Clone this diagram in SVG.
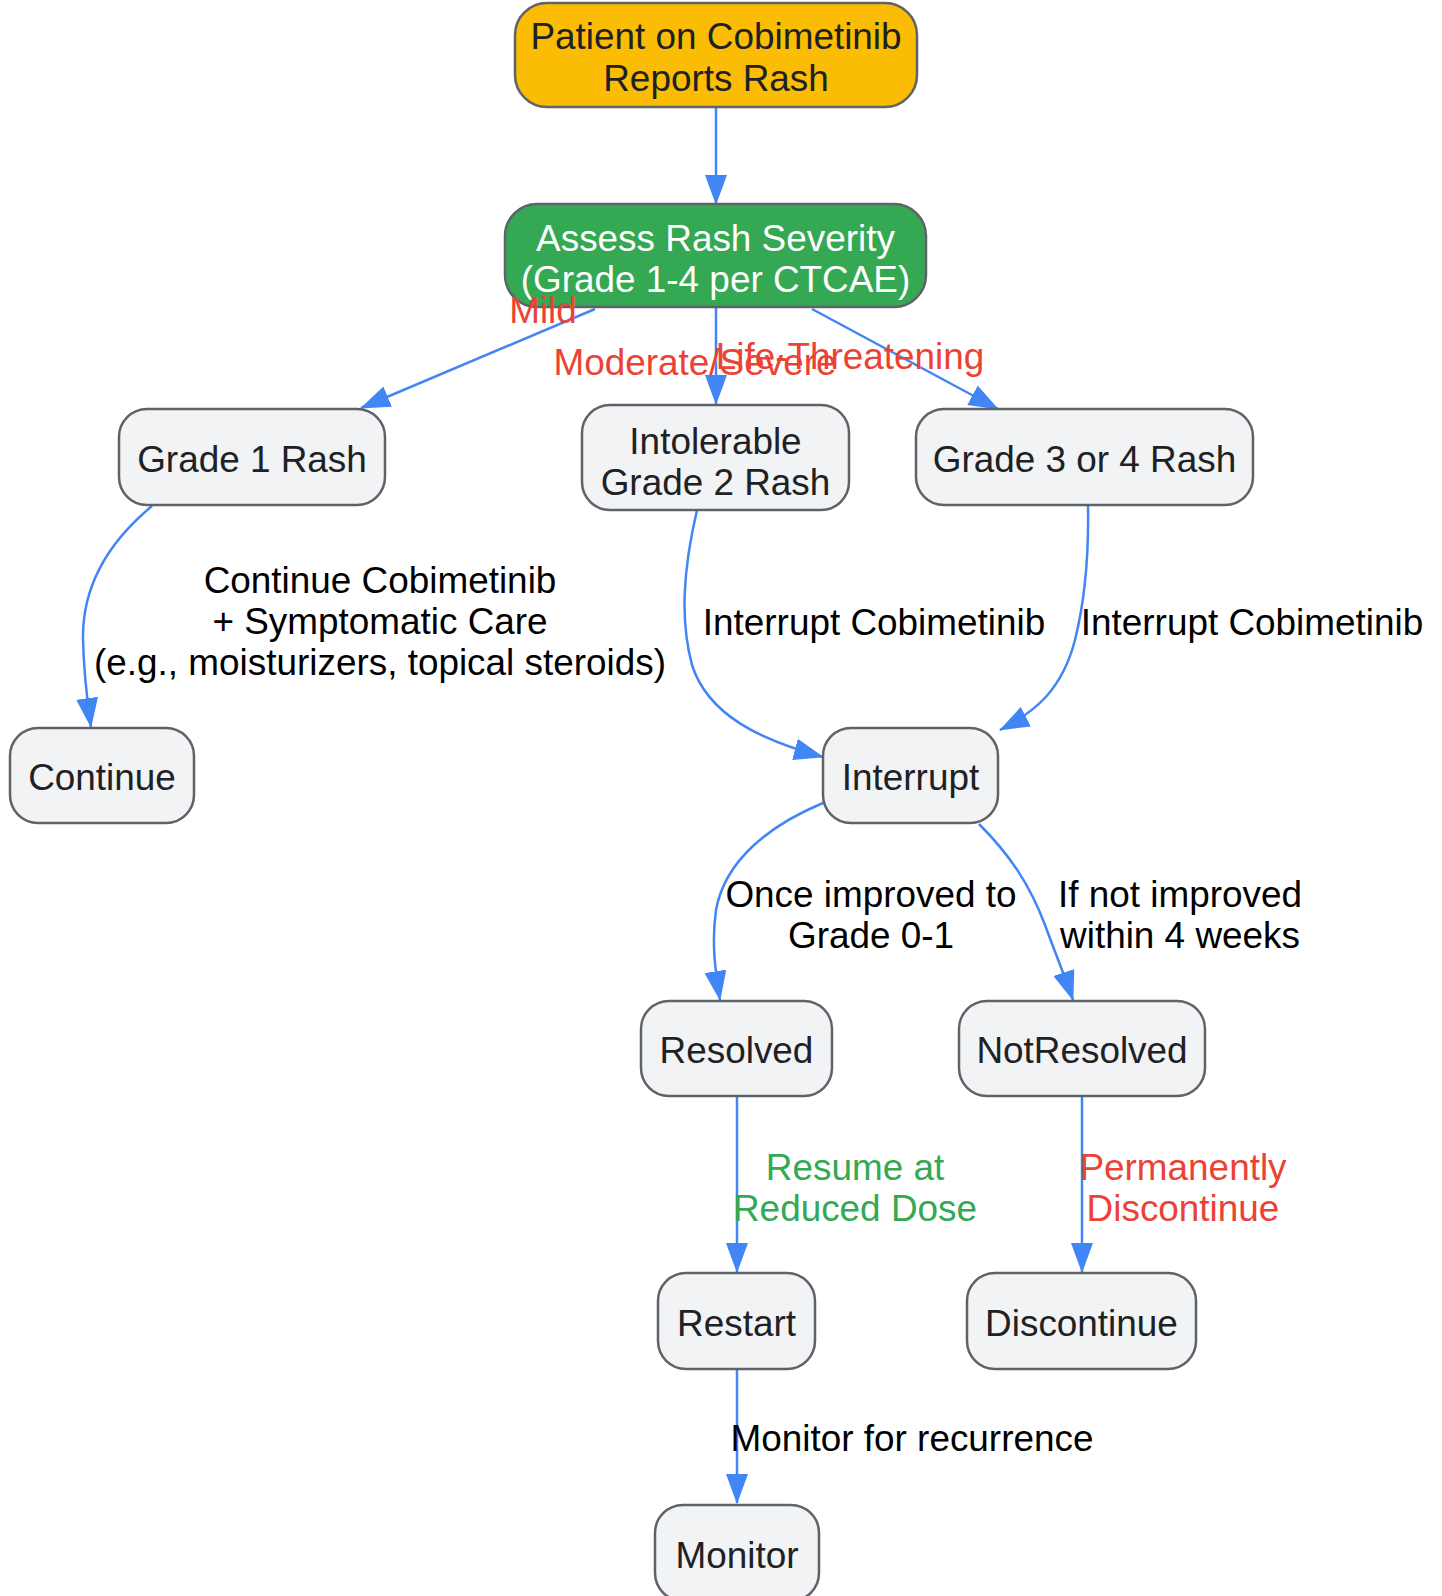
<svg xmlns="http://www.w3.org/2000/svg" width="1442" height="1596" viewBox="0 0 1442 1596">
<defs>
<style>
.n rect{fill:#F1F3F4;stroke:#5F6368;stroke-width:2.5}
.t{font-family:"Liberation Sans",Arial,sans-serif;font-size:36.9px;text-anchor:middle;fill:#202124}
.e path{fill:none;stroke:#4285F4;stroke-width:2.5}
.l{font-family:"Liberation Sans",Arial,sans-serif;font-size:36.9px;text-anchor:middle;fill:#000}
.red{fill:#EA4335}
.grn{fill:#34A853}
</style>
<marker id="ah" markerUnits="userSpaceOnUse" markerWidth="30" markerHeight="22" refX="29" refY="11" orient="auto">
<path d="M0,0 L30,11 L0,22 z" fill="#4285F4"/>
</marker>
</defs>
<rect x="0" y="0" width="1442" height="1596" fill="#fff"/>
<g id="connectors" class="e">
<path d="M716,107 L716,204" marker-end="url(#ah)"/>
<path d="M595,309 L361,408" marker-end="url(#ah)"/>
<path d="M716,307 L716,404" marker-end="url(#ah)"/>
<path d="M812,309 L998,409" marker-end="url(#ah)"/>
<path d="M152,506 C105,545 82,590 83,640 C84,680 88,705 91,727" marker-end="url(#ah)"/>
<path d="M697,510 C683,570 680,620 692,665 C708,715 760,740 823,757" marker-end="url(#ah)"/>
<path d="M1088,505 C1089,560 1085,600 1075,640 C1062,690 1035,712 1000,730" marker-end="url(#ah)"/>
<path d="M823,803 C770,825 725,860 716,910 C711,945 716,975 720,1000" marker-end="url(#ah)"/>
<path d="M979,824 C1010,855 1030,885 1045,925 C1058,960 1068,985 1073,1000" marker-end="url(#ah)"/>
<path d="M737,1096 L737,1272" marker-end="url(#ah)"/>
<path d="M1082,1096 L1082,1272" marker-end="url(#ah)"/>
<path d="M737,1369 L737,1503" marker-end="url(#ah)"/>
</g>
<g id="patient" class="n">
<rect x="515" y="3" width="402" height="104" rx="32" style="fill:#FBBC04"/>
<text class="t" x="716" y="49">Patient on Cobimetinib</text>
<text class="t" x="716" y="91">Reports Rash</text>
</g>
<g id="assess" class="n">
<rect x="505" y="204" width="421" height="103" rx="32" style="fill:#34A853"/>
<text class="t" x="715.5" y="250.5" style="fill:#fff">Assess Rash Severity</text>
<text class="t" x="715.5" y="291.5" style="fill:#fff">(Grade 1-4 per CTCAE)</text>
</g>
<g id="grade1" class="n">
<rect x="119" y="409" width="266" height="96" rx="28"/>
<text class="t" x="252" y="472">Grade 1 Rash</text>
</g>
<g id="grade2" class="n">
<rect x="582" y="405" width="267" height="105" rx="28"/>
<text class="t" x="715.5" y="453.5">Intolerable</text>
<text class="t" x="715.5" y="494.5">Grade 2 Rash</text>
</g>
<g id="grade34" class="n">
<rect x="916" y="409" width="337" height="96" rx="28"/>
<text class="t" x="1084.5" y="472">Grade 3 or 4 Rash</text>
</g>
<g id="continue" class="n">
<rect x="10" y="728" width="184" height="95" rx="28"/>
<text class="t" x="102" y="790">Continue</text>
</g>
<g id="interrupt" class="n">
<rect x="823" y="728" width="175" height="95" rx="28"/>
<text class="t" x="910.5" y="790">Interrupt</text>
</g>
<g id="resolved" class="n">
<rect x="641" y="1001" width="191" height="95" rx="28"/>
<text class="t" x="736.5" y="1063">Resolved</text>
</g>
<g id="notresolved" class="n">
<rect x="959" y="1001" width="246" height="95" rx="28"/>
<text class="t" x="1082" y="1063">NotResolved</text>
</g>
<g id="restart" class="n">
<rect x="658" y="1273" width="157" height="96" rx="28"/>
<text class="t" x="736.5" y="1335.5">Restart</text>
</g>
<g id="discontinue" class="n">
<rect x="967" y="1273" width="229" height="96" rx="28"/>
<text class="t" x="1081.5" y="1335.5">Discontinue</text>
</g>
<g id="monitor" class="n">
<rect x="655" y="1505" width="164" height="96" rx="28"/>
<text class="t" x="737" y="1567.5">Monitor</text>
</g>
<g id="edge-labels">
<text class="l red" x="543" y="323">Mild</text>
<text class="l red" x="695" y="375">Moderate/Severe</text>
<text class="l red" x="850" y="369">Life-Threatening</text>
<text class="l" x="380" y="593">Continue Cobimetinib</text>
<text class="l" x="380" y="634">+ Symptomatic Care</text>
<text class="l" x="380" y="675">(e.g., moisturizers, topical steroids)</text>
<text class="l" x="874" y="635">Interrupt Cobimetinib</text>
<text class="l" x="1252" y="635">Interrupt Cobimetinib</text>
<text class="l" x="871" y="907">Once improved to</text>
<text class="l" x="871" y="948">Grade 0-1</text>
<text class="l" x="1180" y="907">If not improved</text>
<text class="l" x="1180" y="948">within 4 weeks</text>
<text class="l grn" x="855" y="1180">Resume at</text>
<text class="l grn" x="855" y="1221">Reduced Dose</text>
<text class="l red" x="1183" y="1180">Permanently</text>
<text class="l red" x="1183" y="1221">Discontinue</text>
<text class="l" x="912" y="1451">Monitor for recurrence</text>
</g>
</svg>
